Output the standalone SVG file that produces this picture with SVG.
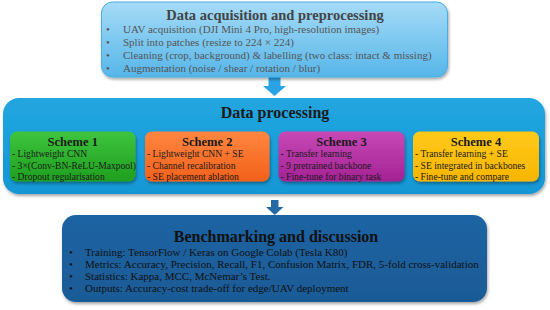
<svg xmlns="http://www.w3.org/2000/svg" width="550" height="310" viewBox="0 0 550 310">
<defs>
<linearGradient id="gTop" x1="0" y1="0" x2="0" y2="1"><stop offset="0" stop-color="#a6dbf7"/><stop offset="1" stop-color="#56b6e9"/></linearGradient>
<linearGradient id="gMid" x1="0" y1="0" x2="0" y2="1"><stop offset="0" stop-color="#22a6e0"/><stop offset="1" stop-color="#1497d4"/></linearGradient>
<linearGradient id="gBot" x1="0" y1="0" x2="0" y2="1"><stop offset="0" stop-color="#1f64a3"/><stop offset="1" stop-color="#195a96"/></linearGradient>
<linearGradient id="g1" x1="0" y1="0" x2="0" y2="1"><stop offset="0" stop-color="#3ec43e"/><stop offset="1" stop-color="#1f9f1f"/></linearGradient>
<linearGradient id="g2" x1="0" y1="0" x2="0" y2="1"><stop offset="0" stop-color="#ff8640"/><stop offset="1" stop-color="#f2601a"/></linearGradient>
<linearGradient id="g3" x1="0" y1="0" x2="0" y2="1"><stop offset="0" stop-color="#c748b6"/><stop offset="1" stop-color="#a42294"/></linearGradient>
<linearGradient id="g4" x1="0" y1="0" x2="0" y2="1"><stop offset="0" stop-color="#ffca1a"/><stop offset="1" stop-color="#f7b500"/></linearGradient>
<filter id="sh" x="-5%" y="-5%" width="110%" height="120%"><feDropShadow dx="1" dy="2" stdDeviation="1.5" flood-color="#000" flood-opacity="0.35"/></filter>
</defs>
<style>
text{font-family:"Liberation Serif","Times New Roman",serif;}
.t{font-weight:bold;text-anchor:middle;}
.top{fill:#555;font-size:11px;}
.sh{fill:#1a1a1a;font-size:12.5px;}
.sc{fill:#1a1a1a;font-size:9.6px;}
.bt{fill:#111;font-size:11px;}
</style>
<g id="connectors">
<path d="M268.5,77 H280.5 V86 H286 L274.5,96 L263,86 H268.5 Z" fill="#2aa3e5"/>
<path d="M271,200 H278.5 V207 H283.5 L274.75,215 L266,207 H271 Z" fill="#246aa6"/>
</g>
<g id="acquisition">
<rect x="101.5" y="2" width="346" height="75" rx="11" fill="url(#gTop)" stroke="#4aaee3" stroke-width="1" filter="url(#sh)"/>
<text class="t" x="275" y="20" fill="#444" font-size="14.5">Data acquisition and preprocessing</text>
<g class="top">
<text x="106" y="33">•</text><text x="123" y="33">UAV acquisition (DJI Mini 4 Pro, high-resolution images)</text>
<text x="106" y="46">•</text><text x="123" y="46">Split into patches (resize to 224 × 224)</text>
<text x="106" y="59">•</text><text x="123" y="59">Cleaning (crop, background) &amp; labelling (two class: intact &amp; missing)</text>
<text x="106" y="72">•</text><text x="123" y="72">Augmentation (noise / shear / rotation / blur)</text>
</g>
</g>
<g id="processing">
<rect x="3" y="98" width="542" height="96" rx="16" fill="url(#gMid)" filter="url(#sh)"/>
<text class="t" x="275" y="118" fill="#1a1a1a" font-size="16">Data processing</text>
</g>
<g id="scheme1">
<rect x="10" y="131.5" width="125.5" height="50" rx="7" fill="url(#g1)" filter="url(#sh)"/>
<text class="t sh" x="72.75" y="146">Scheme 1</text>
<g class="sc"><text x="12" y="157">- Lightweight CNN</text><text x="12" y="168.5">- 3×(Conv-BN-ReLU-Maxpool)</text><text x="12" y="180">- Dropout regularisation</text></g>
</g>
<g id="scheme2">
<rect x="145" y="131.5" width="124.5" height="50" rx="7" fill="url(#g2)" filter="url(#sh)"/>
<text class="t sh" x="207.25" y="146">Scheme 2</text>
<g class="sc"><text x="147" y="157">- Lightweight CNN + SE</text><text x="147" y="168.5">- Channel recalibration</text><text x="147" y="180">- SE placement ablation</text></g>
</g>
<g id="scheme3">
<rect x="278.5" y="131.5" width="126" height="50" rx="7" fill="url(#g3)" filter="url(#sh)"/>
<text class="t sh" x="341.5" y="146">Scheme 3</text>
<g class="sc"><text x="280.5" y="157">- Transfer learning</text><text x="280.5" y="168.5">- 9 pretrained backbone</text><text x="280.5" y="180">- Fine-tune for binary task</text></g>
</g>
<g id="scheme4">
<rect x="413" y="131.5" width="126" height="50" rx="7" fill="url(#g4)" filter="url(#sh)"/>
<text class="t sh" x="476" y="146">Scheme 4</text>
<g class="sc"><text x="415" y="157">- Transfer learning + SE</text><text x="415" y="168.5">- SE integrated in backbones</text><text x="415" y="180">- Fine-tune and compare</text></g>
</g>
<g id="benchmarking">
<rect x="62" y="215" width="425" height="87" rx="14" fill="url(#gBot)" filter="url(#sh)"/>
<text class="t" x="276" y="242" fill="#111" font-size="16">Benchmarking and discussion</text>
<g class="bt">
<text x="69" y="255.5">•</text><text x="85" y="255.5">Training: TensorFlow / Keras on Google Colab (Tesla K80)</text>
<text x="69" y="267.5">•</text><text x="85" y="267.5">Metrics: Accuracy, Precision, Recall, F1, Confusion Matrix, FDR, 5-fold cross-validation</text>
<text x="69" y="279.5">•</text><text x="85" y="279.5">Statistics: Kappa, MCC, McNemar’s Test.</text>
<text x="69" y="291.5">•</text><text x="85" y="291.5">Outputs: Accuracy-cost trade-off for edge/UAV deployment</text>
</g>
</g>
</svg>
